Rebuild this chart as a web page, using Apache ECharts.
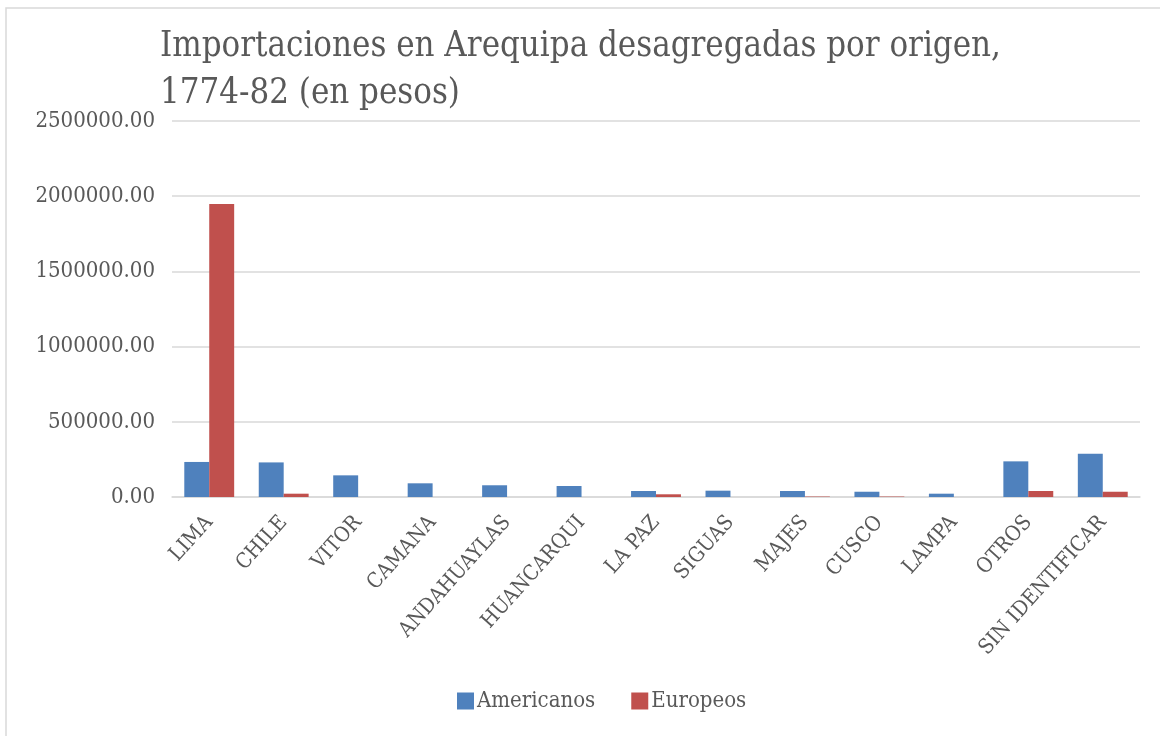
<!DOCTYPE html>
<html>
<head>
<meta charset="utf-8">
<script src="https://cdn.jsdelivr.net/npm/echarts@6/dist/echarts.min.js"></script>
<style>
  html, body { margin: 0; padding: 0; background: #ffffff; }
  #chart { width: 1160px; height: 736px; }
</style>
</head>
<body>
<div id="chart"></div>
<script>
const titleText = 'Importaciones en Arequipa desagregadas por origen,\n1774-82 (en pesos)';
const categories = ['LIMA', 'CHILE', 'VITOR', 'CAMANA', 'ANDAHUAYLAS', 'HUANCARQUI', 'LA PAZ', 'SIGUAS', 'MAJES', 'CUSCO', 'LAMPA', 'OTROS', 'SIN IDENTIFICAR'];
const americanos = [233000, 230000, 144000, 91000, 78000, 73000, 40000, 42000, 40000, 35000, 22000, 237000, 288000];
const europeos = [1948000, 22000, 0, 0, 0, 0, 18000, 0, 3000, 3000, 0, 40000, 35000];
const seriesNames = ['Americanos', 'Europeos'];
const yMin = 0, yMax = 2500000, yStep = 500000;

const FONT = "'DejaVu Serif Condensed', 'DejaVu Serif', 'Liberation Serif', serif";
const chart = echarts.init(document.getElementById('chart'));
chart.setOption({
  backgroundColor: '#ffffff',
  animation: false,
  graphic: [{
    type: 'rect',
    shape: { x: 6, y: 8, width: 1200, height: 800 },
    style: { fill: 'none', stroke: '#D9D9D9', lineWidth: 1.5 },
    silent: true
  }],
  title: {
    text: titleText,
    left: 155,
    top: 19,
    textStyle: { fontFamily: FONT, fontSize: 34.5, fontWeight: 'normal', color: '#595959', lineHeight: 47 }
  },
  legend: {
    bottom: 19,
    left: 452,
    itemWidth: 17,
    itemHeight: 17,
    itemGap: 36,
    icon: 'rect',
    textStyle: { fontFamily: FONT, fontSize: 22, color: '#595959', padding: [0, 0, 0, -2] },
    data: seriesNames
  },
  grid: { left: 172, right: 20, top: 121, bottom: 239 },
  xAxis: {
    type: 'category',
    data: categories,
    axisLine: { lineStyle: { color: '#D9D9D9', width: 1.5 } },
    axisTick: { show: false },
    axisLabel: { rotate: 48, interval: 0, margin: 22, fontFamily: FONT, fontSize: 21, color: '#595959' }
  },
  yAxis: {
    type: 'value',
    min: yMin, max: yMax, interval: yStep,
    axisLine: { show: false },
    axisTick: { show: false },
    splitLine: { lineStyle: { color: '#D9D9D9', width: 1.5 } },
    axisLabel: { margin: 17, fontFamily: FONT, fontSize: 22, color: '#595959', formatter: v => v.toFixed(2) }
  },
  series: [
    { name: seriesNames[0], type: 'bar', data: americanos, itemStyle: { color: '#4F81BD' }, barGap: '0%', barCategoryGap: '33%' },
    { name: seriesNames[1], type: 'bar', data: europeos, itemStyle: { color: '#C0504D' }, barGap: '0%', barCategoryGap: '33%' }
  ]
});
</script>
</body>
</html>
